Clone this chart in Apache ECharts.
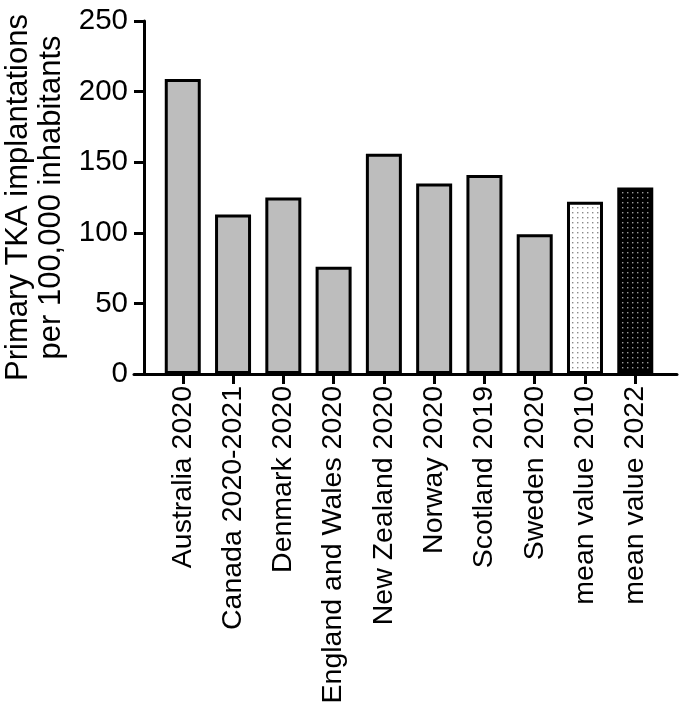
<!DOCTYPE html>
<html>
<head>
<meta charset="utf-8">
<script src="https://cdn.jsdelivr.net/npm/echarts@6/dist/echarts.min.js"></script>
<style>
  html, body { margin: 0; padding: 0; background: #fff; }
  #chart { width: 685px; height: 713px; }
</style>
</head>
<body>
<div id="chart"></div>
<script>
// data
var categories = ['Australia 2020', 'Canada 2020-2021', 'Denmark 2020', 'England and Wales 2020',
  'New Zealand 2020', 'Norway 2020', 'Scotland 2019', 'Sweden 2020', 'mean value 2010', 'mean value 2022'];
var values = [209, 113, 125, 76, 156, 135, 141, 99, 122, 132];
var yTicks = [0, 50, 100, 150, 200, 250];

var FONT = 'Liberation Sans, Arial, sans-serif';

// dotted fill for the two mean bars
function dots(bg, dot) {
	var c = document.createElement('canvas');
	c.width = 5; c.height = 5;
	var ctx = c.getContext('2d');
	ctx.fillStyle = bg;
	ctx.fillRect(0, 0, 5, 5);
	ctx.fillStyle = dot;
	ctx.fillRect(2, 2, 1.4, 1.4);
	return c;
}
var fills = ['#bdbdbd', '#bdbdbd', '#bdbdbd', '#bdbdbd', '#bdbdbd', '#bdbdbd', '#bdbdbd', '#bdbdbd',
  { image: dots('#ffffff', '#8a8a8a'), repeat: 'repeat' },
  { image: dots('#000000', '#9a9a9a'), repeat: 'repeat' }];

var barData = values.map(function (v, i) {
	return { value: [i, v], itemStyle: { color: fills[i] } };
});

var chart = echarts.init(document.getElementById('chart'));
chart.setOption({
	animation: false,
	grid: { left: 134, right: 8, top: 21, bottom: 339, containLabel: false, outerBoundsMode: 'none' },
	xAxis: {
		type: 'value',
		min: -0.97,
		max: 9.83,
		splitLine: { show: false },
		axisLine: { show: true, onZero: false, lineStyle: { color: '#000', width: 3 } },
		axisTick: { show: true, length: 10, customValues: categories.map(function (c, i) { return i; }),
			lineStyle: { color: '#000', width: 3 } },
		axisLabel: {
			customValues: categories.map(function (c, i) { return i; }),
			rotate: 90,
			margin: 12,
			color: '#000',
			fontSize: 28.5,
			fontFamily: FONT,
			formatter: function (v) { return categories[Math.round(v)]; }
		}
	},
	yAxis: {
		type: 'value',
		min: 0,
		max: 250,
		interval: 50,
		offset: -10,
		splitLine: { show: false },
		axisLine: { show: true, onZero: false, lineStyle: { color: '#000', width: 3 } },
		axisTick: { show: true, length: 10, lineStyle: { color: '#000', width: 3 } },
		axisLabel: {
			margin: 16,
			color: '#000',
			fontSize: 29.5,
			fontFamily: FONT,
			formatter: function (v) { return yTicks.indexOf(v) >= 0 ? String(v) : ''; }
		},
		name: 'Primary TKA implantations\nper 100,000 inhabitants',
		nameLocation: 'middle',
		nameRotate: 90,
		nameGap: 72,
		nameTextStyle: { color: '#000', fontSize: 31, fontFamily: FONT, lineHeight: 33 }
	},
	series: [{
		type: 'bar',
		barWidth: 36,
		data: barData,
		itemStyle: { borderColor: '#000', borderWidth: 3 }
	}]
});
</script>
</body>
</html>
